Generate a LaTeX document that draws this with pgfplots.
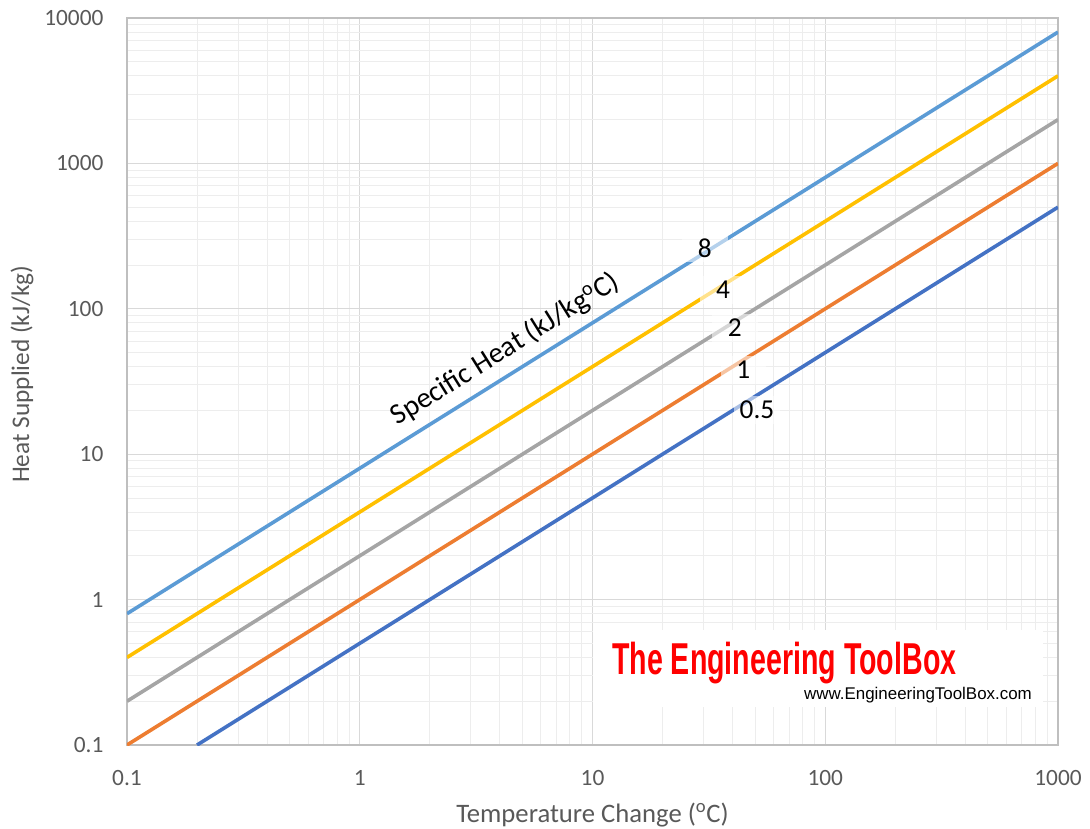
\documentclass[border=0pt]{standalone}
\usepackage{pgfplots}
\pgfplotsset{compat=1.18}
\usepackage{fontspec}
\setmainfont{Carlito}
\newfontfamily\arialfont{Liberation Sans}
\definecolor{cHalf}{HTML}{4472C4}
\definecolor{cOne}{HTML}{ED7D31}
\definecolor{cTwo}{HTML}{A5A5A5}
\definecolor{cFour}{HTML}{FFC000}
\definecolor{cEight}{HTML}{5B9BD5}
\definecolor{txt}{HTML}{595959}
\definecolor{gmaj}{HTML}{D9D9D9}
\definecolor{gmin}{HTML}{EDEDED}
\definecolor{etbred}{HTML}{FF0000}
\begin{document}
\begin{tikzpicture}[
  lbl/.style={font=\fontsize{20.5}{24}\selectfont, fill=white, fill opacity=0.55,
    text opacity=1, inner sep=0pt, minimum width=34pt, minimum height=21pt}]
\begin{axis}[name=ax,
  xmode=log, ymode=log, scale only axis,
  width=698.25pt, height=545.25pt,
  xmin=0.1, xmax=1000, ymin=0.1, ymax=10000,
  xtick={0.1,1,10,100,1000}, xticklabels={0.1,1,10,100,1000},
  ytick={0.1,1,10,100,1000,10000}, yticklabels={0.1,1,10,100,1000,10000},
  major tick length=0pt, minor tick length=0pt,
  grid=both,
  major grid style={draw=gmaj, line width=0.9pt},
  minor grid style={draw=gmin, line width=0.7pt},
  axis line style={draw=black!25, line width=0.9pt},
  tick label style={font=\fontsize{17.5}{20}\selectfont, text=txt, inner sep=0pt},
  xticklabel style={anchor=north, yshift=-18.75pt},
  yticklabel style={anchor=east, xshift=-17.5pt},
  xlabel={Temperature Change (\textsuperscript{o}C)},
  ylabel={Heat Supplied (kJ/kg)},
  xlabel style={font=\fontsize{20}{22}\selectfont, text=txt, inner sep=0pt,
    at={(axis description cs:0.5,0)}, anchor=center, yshift=-52.5pt},
  every axis y label/.style={font=\fontsize{19}{22}\selectfont, text=txt, inner sep=0pt,
    at={(axis description cs:0,0.51)}, anchor=center, rotate=90, yshift=78.75pt},
]
\addplot[cHalf, line width=2.7pt] coordinates {(0.2,0.1) (1,0.5) (10,5) (100,50) (1000,500)};
\addplot[cOne, line width=2.7pt] coordinates {(0.1,0.1) (1,1) (10,10) (100,100) (1000,1000)};
\addplot[cTwo, line width=2.7pt] coordinates {(0.1,0.2) (1,2) (10,20) (100,200) (1000,2000)};
\addplot[cFour, line width=2.7pt] coordinates {(0.1,0.4) (1,4) (10,40) (100,400) (1000,4000)};
\addplot[cEight, line width=2.7pt] coordinates {(0.1,0.8) (1,8) (10,80) (100,800) (1000,8000)};

\node[lbl] at (axis cs:30.4,262) {8};
\node[lbl] at (axis cs:36.4,134.6) {4};
\node[lbl] at (axis cs:40.9,73.8) {2};
\node[lbl] at (axis cs:44.4,37.9) {1};
\node[lbl] at (axis cs:50.9,20.1) {0.5};
\node[rotate=32, font=\fontsize{21.7}{24}\selectfont, inner sep=0pt]
  at (axis cs:4.21,52.5) {Specific Heat (kJ/kg\textsuperscript{o}C)};

% watermark
\fill[white] (rel axis cs:0.5005,0.0523) rectangle (rel axis cs:0.984,0.158);
\node[anchor=base west, inner sep=0pt, text=etbred, xscale=0.64,
  font=\arialfont\bfseries\fontsize{33.5}{36}\selectfont]
  at (rel axis cs:0.521,0.0963) {The Engineering ToolBox};
\node[anchor=base west, inner sep=0pt, text=black,
  font=\arialfont\fontsize{12.7}{14}\selectfont]
  at (rel axis cs:0.727,0.0619) {www.EngineeringToolBox.com};
\end{axis}
\pgfresetboundingbox
\path ([xshift=-95.25pt,yshift=-63pt]ax.south west) rectangle ([xshift=24pt,yshift=13.5pt]ax.north east);
\end{tikzpicture}
\end{document}
